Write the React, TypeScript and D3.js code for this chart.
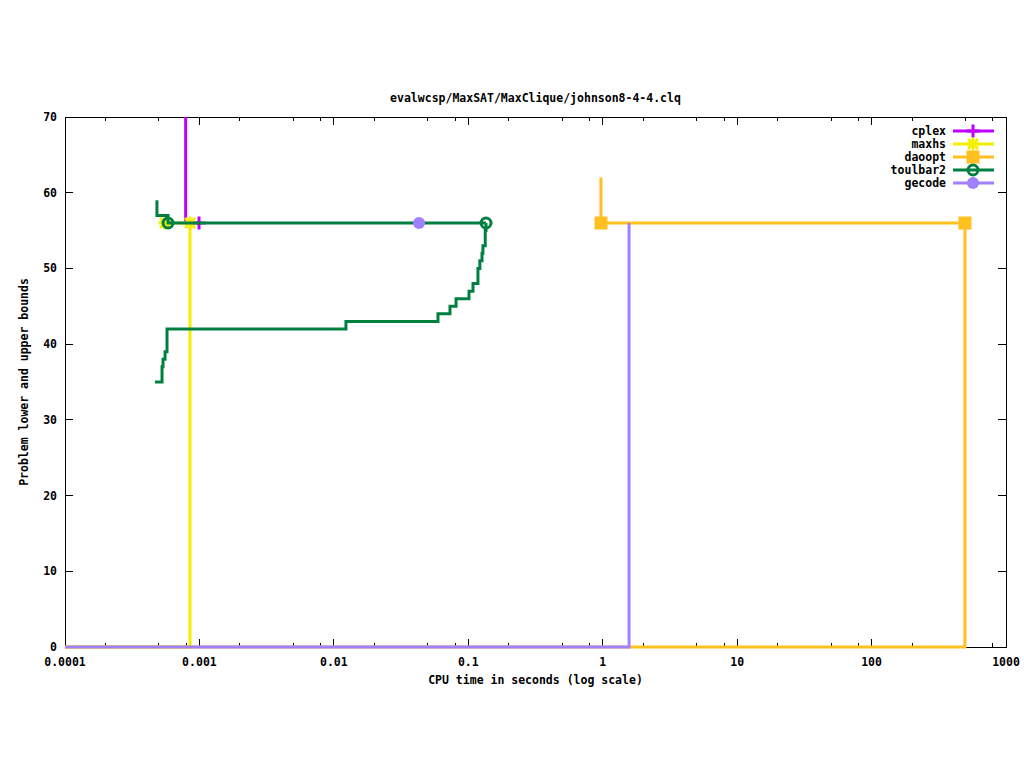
import React from 'react';
import * as d3 from 'd3';

// [cpu time (s), bound]
const cplexUpper: [number, number][] = [[0.00079, 70], [0.00079, 56], [0.000993, 56]];
const cplexMarks: [number, number][] = [[0.000993, 56]];

const maxhsUpper: [number, number][] = [[0.000555, 56], [0.000851, 56]];
const maxhsLower: [number, number][] = [[0.0001, 0], [0.000851, 56]];
const maxhsMarks: [number, number][] = [[0.000555, 56], [0.000851, 56]];

const daooptUpper: [number, number][] = [[0.971, 62], [0.971, 56], [495, 56]];
const daooptLower: [number, number][] = [[0.0001, 0], [495, 56]];
const daooptMarks: [number, number][] = [[0.971, 56], [495, 56]];

const toulbar2Upper: [number, number][] = [[0.000483, 59], [0.000483, 57], [0.000584, 56], [0.1355, 56]];
const toulbar2Lower: [number, number][] = [
    [0.000467, 35], [0.000527, 37], [0.000536, 38], [0.000555, 39], [0.000574, 42],
    [0.0123, 43], [0.0595, 44], [0.0731, 45], [0.0811, 46], [0.1012, 47],
    [0.1084, 48], [0.118, 50], [0.1219, 51], [0.1265, 52], [0.1285, 53],
    [0.1337, 55], [0.1355, 56],
];
const toulbar2Marks: [number, number][] = [[0.000584, 56], [0.1355, 56]];

const gecodeLower: [number, number][] = [[0.0001, 0], [1.57, 56]];
const gecodeMarks: [number, number][] = [[0.043, 56]];

const xTicks = [0.0001, 0.001, 0.01, 0.1, 1, 10, 100, 1000];
const xTickLabels = ['0.0001', '0.001', '0.01', '0.1', '1', '10', '100', '1000'];
const xMinorSteps = [2, 5, 8];
const yTicks = [0, 10, 20, 30, 40, 50, 60, 70];

const title = 'evalwcsp/MaxSAT/MaxClique/johnson8-4-4.clq';
const xLabel = 'CPU time in seconds (log scale)';
const yLabel = 'Problem lower and upper bounds';

type MarkKind = 'plus' | 'star' | 'square' | 'ring' | 'dot';

interface Solver {
    name: string;
    color: string;
    mark: MarkKind;
    paths: [number, number][][];
    marks: [number, number][];
}

const solvers: Solver[] = [
    { name: 'cplex', color: '#c000ff', mark: 'plus', paths: [cplexUpper], marks: cplexMarks },
    { name: 'maxhs', color: '#f0f000', mark: 'star', paths: [maxhsUpper, maxhsLower], marks: maxhsMarks },
    { name: 'daoopt', color: '#ffc020', mark: 'square', paths: [daooptUpper, daooptLower], marks: daooptMarks },
    { name: 'toulbar2', color: '#008040', mark: 'ring', paths: [toulbar2Upper, toulbar2Lower], marks: toulbar2Marks },
    { name: 'gecode', color: '#a080ff', mark: 'dot', paths: [gecodeLower], marks: gecodeMarks },
];

const W = 1024;
const H = 768;
const left = 65, right = 1006, top = 117, bottom = 647;
const font = '"DejaVu Sans Mono", monospace';

const Marker: React.FC<{ kind: MarkKind; x: number; y: number; color: string }> = ({ kind, x, y, color }) => {
    const s = 6.5;
    switch (kind) {
        case 'plus':
            return (
                <g stroke={color} strokeWidth={3}>
                    <line x1={x - s} x2={x + s} y1={y} y2={y} />
                    <line x1={x} x2={x} y1={y - s} y2={y + s} />
                </g>
            );
        case 'star':
            return (
                <g stroke={color} strokeWidth={3}>
                    <line x1={x - s} x2={x + s} y1={y} y2={y} />
                    <line x1={x} x2={x} y1={y - s} y2={y + s} />
                    <line x1={x - 5} x2={x + 5} y1={y - 5} y2={y + 5} />
                    <line x1={x - 5} x2={x + 5} y1={y + 5} y2={y - 5} />
                </g>
            );
        case 'square':
            return <rect x={x - s} y={y - s} width={2 * s} height={2 * s} fill={color} />;
        case 'ring':
            return <circle cx={x} cy={y} r={5} fill="none" stroke={color} strokeWidth={3} />;
        default:
            return <circle cx={x} cy={y} r={6} fill={color} />;
    }
};

const App: React.FC = () => {
    const xScale = d3.scaleLog().domain([1e-4, 1e3]).range([left, right]);
    const yScale = d3.scaleLinear().domain([0, 70]).range([bottom, top]);

    const line = d3.line<[number, number]>()
        .x(d => xScale(d[0]))
        .y(d => yScale(d[1]))
        .curve(d3.curveStepAfter);

    const minorTicks: number[] = [];
    xTicks.slice(0, -1).forEach(t => xMinorSteps.forEach(m => minorTicks.push(t * m)));

    return (
        <svg width={W} height={H} style={{ position: 'absolute', left: 0, top: 0, background: '#fff' }}
            fontFamily={font} fontWeight="bold" fontSize={11.5}>
            <rect width={W} height={H} fill="#fff" />

            {/* frame and ticks */}
            <g stroke="#000" strokeWidth={1} shapeRendering="crispEdges">
                <rect x={left} y={top} width={right - left} height={bottom - top} fill="none" />
                {xTicks.map(t => (
                    <g key={'xt' + t}>
                        <line x1={xScale(t)} x2={xScale(t)} y1={bottom} y2={bottom - 8} />
                        <line x1={xScale(t)} x2={xScale(t)} y1={top} y2={top + 8} />
                    </g>
                ))}
                {minorTicks.map(t => (
                    <g key={'xm' + t}>
                        <line x1={xScale(t)} x2={xScale(t)} y1={bottom} y2={bottom - 4} />
                        <line x1={xScale(t)} x2={xScale(t)} y1={top} y2={top + 4} />
                    </g>
                ))}
                {yTicks.map(t => (
                    <g key={'yt' + t}>
                        <line x1={left} x2={left + 8} y1={yScale(t)} y2={yScale(t)} />
                        <line x1={right} x2={right - 8} y1={yScale(t)} y2={yScale(t)} />
                    </g>
                ))}
            </g>

            {xTicks.map((t, i) => (
                <text key={'xl' + t} x={xScale(t)} y={bottom + 19} textAnchor="middle">{xTickLabels[i]}</text>
            ))}
            {yTicks.map(t => (
                <text key={'yl' + t} x={left - 8} y={yScale(t) + 4} textAnchor="end">{t}</text>
            ))}

            <text x={(left + right) / 2} y={102} textAnchor="middle">{title}</text>
            <text x={(left + right) / 2} y={684} textAnchor="middle">{xLabel}</text>
            <text transform={`translate(28, ${(top + bottom) / 2}) rotate(-90)`} textAnchor="middle">{yLabel}</text>

            {/* series */}
            {solvers.map(s => (
                <g key={s.name}>
                    {s.paths.map((p, i) => (
                        <path key={i} d={line(p) || ''} fill="none" stroke={s.color} strokeWidth={3} />
                    ))}
                    {s.marks.map((m, i) => (
                        <Marker key={i} kind={s.mark} x={xScale(m[0])} y={yScale(m[1])} color={s.color} />
                    ))}
                </g>
            ))}

            {/* legend */}
            {solvers.map((s, i) => {
                const ly = 131 + i * 13;
                return (
                    <g key={'lg' + s.name}>
                        <text x={946} y={ly + 4} textAnchor="end">{s.name}</text>
                        <line x1={953} x2={994} y1={ly} y2={ly} stroke={s.color} strokeWidth={3} />
                        <Marker kind={s.mark} x={973} y={ly} color={s.color} />
                    </g>
                );
            })}
        </svg>
    );
};

export default App;
